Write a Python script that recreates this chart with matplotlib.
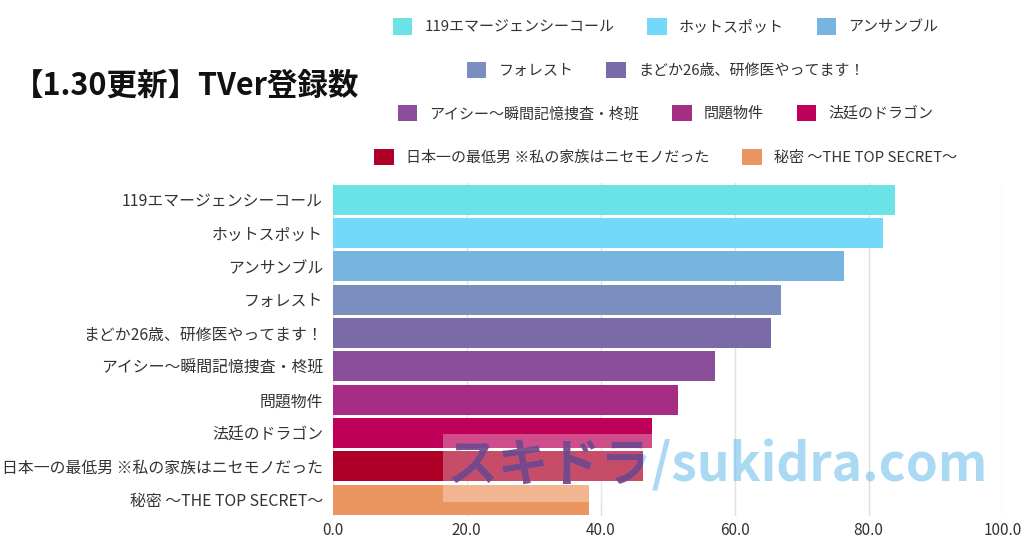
import matplotlib.pyplot as plt
from matplotlib.patches import Patch, Rectangle

plt.rcParams['font.family'] = ['Noto Sans CJK JP', 'DejaVu Sans']

# data
titles = [
    '119エマージェンシーコール',
    'ホットスポット',
    'アンサンブル',
    'フォレスト',
    'まどか26歳、研修医やってます！',
    'アイシー〜瞬間記憶捜査・柊班',
    '問題物件',
    '法廷のドラゴン',
    '日本一の最低男 ※私の家族はニセモノだった',
    '秘密 〜THE TOP SECRET〜',
]
values = [84.0, 82.1, 76.4, 67.0, 65.4, 57.0, 51.5, 47.6, 46.3, 38.2]
colors = ['#6ae3e6', '#72d9fb', '#78b4e0', '#7a8fc0', '#7a6aa8',
          '#8a4e9a', '#a52e84', '#be0059', '#b00027', '#eb9660']
xticks = [0, 20, 40, 60, 80, 100]
legend_rows = [[0, 1, 2], [3, 4], [5, 6, 7], [8, 9]]

fig = plt.figure(figsize=(10.24, 5.38), dpi=100)
ax = fig.add_axes([0.325, 0.040, 0.654, 0.620])

ypos = list(range(len(titles)))
ax.barh(ypos, values, height=0.9, color=colors, zorder=2)
ax.set_ylim(len(titles) - 0.5, -0.5)
ax.set_xlim(0, 100)
ax.set_xticks(xticks)
ax.set_xticklabels([f'{t:.1f}' for t in xticks], fontsize=11, color='#333333')
ax.set_yticks(ypos)
ax.set_yticklabels(titles, fontsize=11.4, color='#333333')
ax.tick_params(length=0, pad=7)
ax.tick_params(axis='x', pad=4)
ax.grid(axis='x', color='#e0e0e0', linewidth=1, zorder=0)
for s in ax.spines.values():
    s.set_visible(False)

# title
fig.text(0.013, 0.840, '【1.30更新】TVer登録数', fontsize=22, fontweight='bold',
         color='#111111', va='center', ha='left')

# legend, one centered row at a time
row_y = [0.951, 0.870, 0.790, 0.708]
for row, y in zip(legend_rows, row_y):
    handles = [Patch(facecolor=colors[i], label=titles[i]) for i in row]
    leg = fig.legend(handles=handles, loc='center', bbox_to_anchor=(0.650, y),
                     ncol=len(row), frameon=False, fontsize=10.8,
                     handlelength=1.3, handleheight=1.3, handletextpad=0.8,
                     columnspacing=2.2)
    for t in leg.get_texts():
        t.set_color('#333333')

# watermark
fig.patches.append(Rectangle((0.433, 0.067), 0.21, 0.126, transform=fig.transFigure,
                             facecolor='white', alpha=0.3, edgecolor='none', zorder=5))
wm = 'スキドラ/sukidra.com'
fig.text(0.700, 0.134, wm, fontsize=37, fontweight='bold',
         color='#72c0ec', alpha=0.6, ha='center', va='center', zorder=6)
# darker where it sits over the red bars
clip = Rectangle((0.433, 0.095), 0.195, 0.098, transform=fig.transFigure)
dark = fig.text(0.700, 0.134, wm, fontsize=37, fontweight='bold',
                color='#70357e', alpha=0.8, ha='center', va='center', zorder=7)
dark.set_clip_path(clip)

fig.savefig('out.png', dpi=100)
